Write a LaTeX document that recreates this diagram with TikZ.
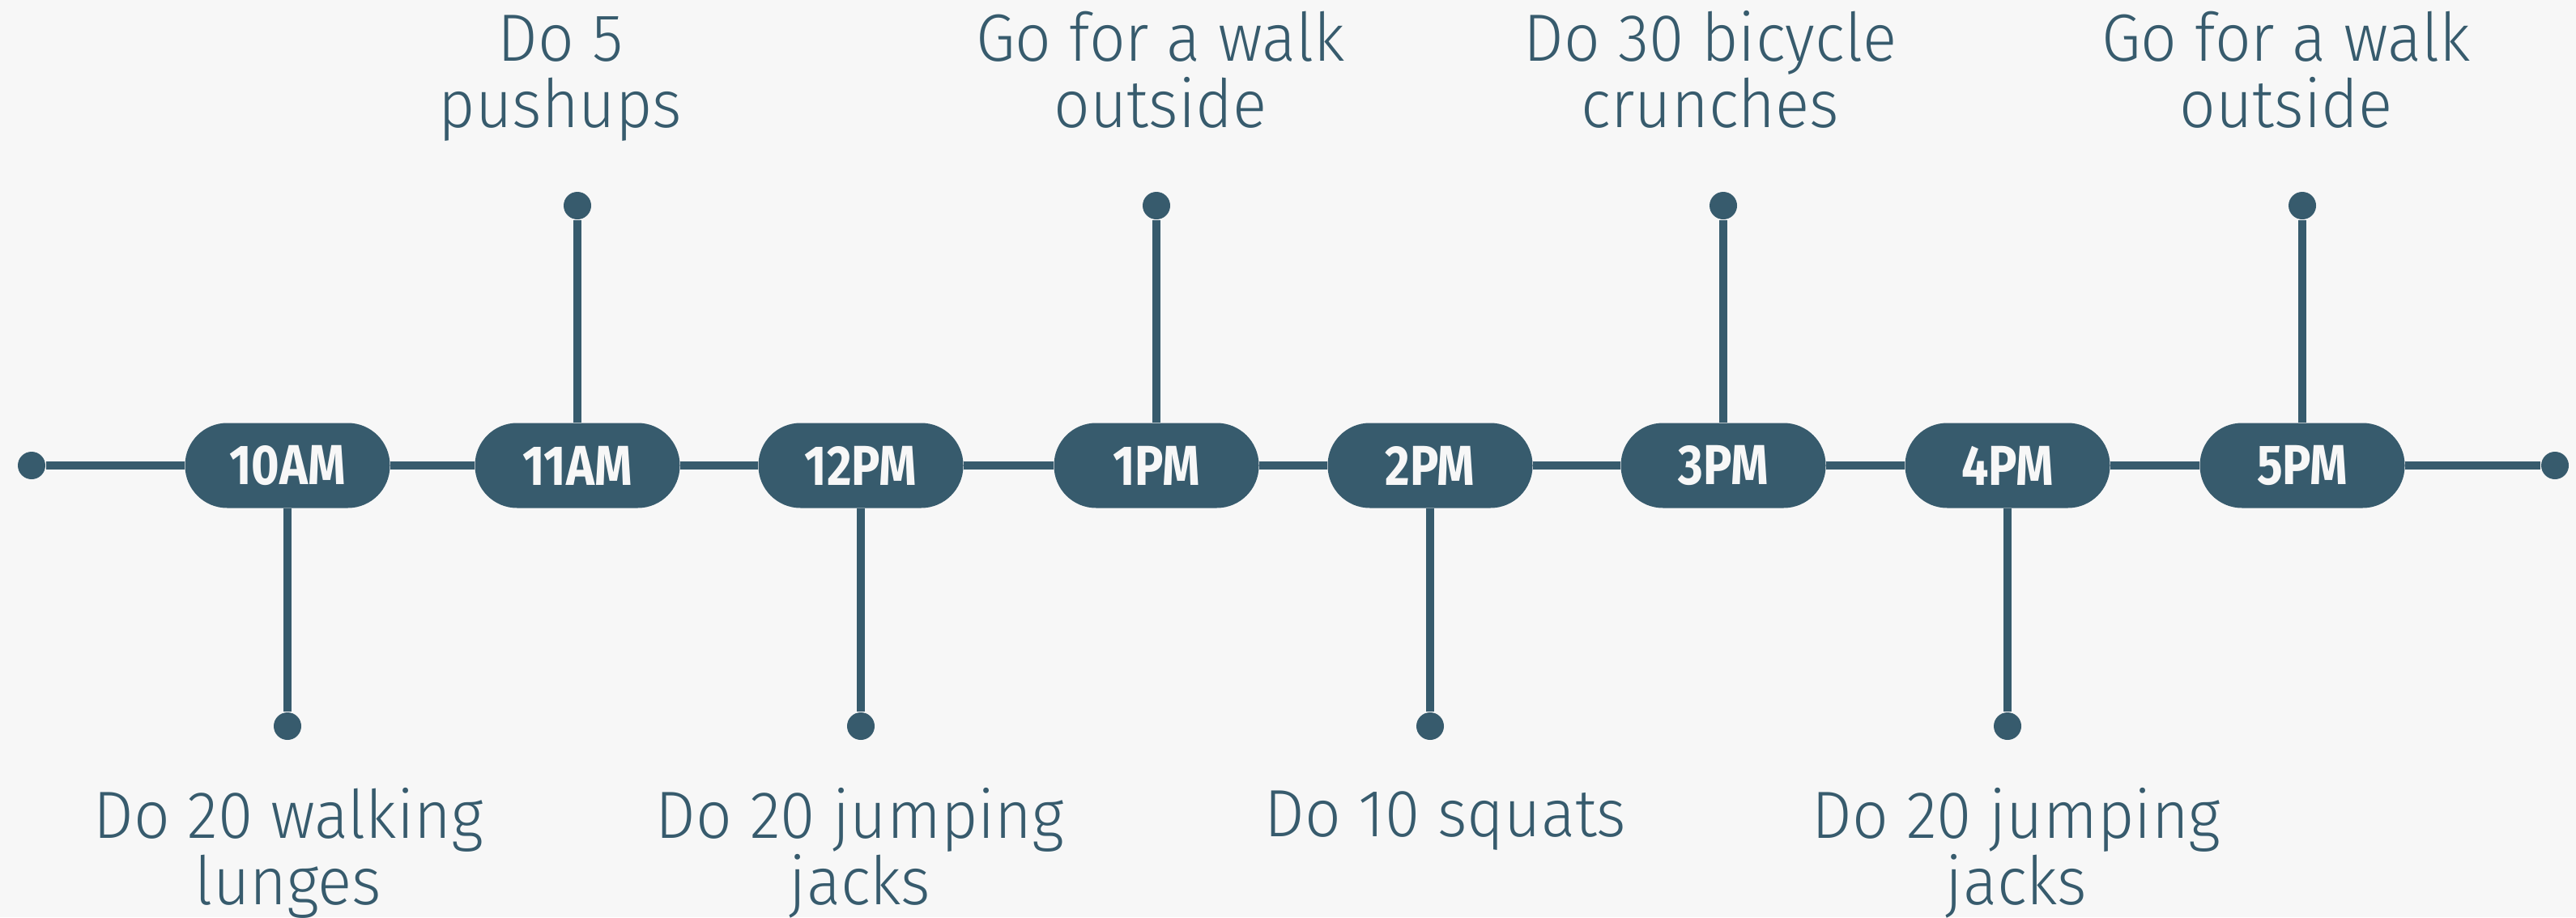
\documentclass[tikz,border=0pt]{standalone}
\usepackage{fontspec}
\setmainfont{Fira Sans Light}[FakeStretch=0.95]
\newfontfamily\pillfont{Fira Sans}[UprightFont={* Bold},FakeStretch=0.85]
\definecolor{tealdark}{HTML}{375B6D}
\definecolor{bgpaper}{HTML}{F7F7F7}

\begin{document}
\begin{tikzpicture}[
    % Styles
    tline/.style={line width=2.85pt, draw=tealdark},
    pill/.style={fill=tealdark, rounded corners=0.52cm, minimum width=2.53cm,
                 minimum height=1.05cm, inner sep=0pt, text=bgpaper,
                 font=\pillfont\fontsize{19.8pt}{20pt}\selectfont},
    dot/.style={circle, fill=tealdark, inner sep=0pt, minimum size=0.34cm},
    task/.style={anchor=base, align=center, text=tealdark, inner sep=0pt,
                 font=\fontsize{23.5pt}{23.2pt}\selectfont},
  ]

  % Background
  \fill[bgpaper] (0,0) rectangle (31.81,11.33);
  \useasboundingbox (0,0) rectangle (31.81,11.33);

  % End points
  \node[dot] (lend) at (0.39, 5.58) {};
  \node[dot] (rend) at (31.55, 5.58) {};

  % Hour pills
  \node[pill] (h10) at (3.55, 5.58) {10AM};
  \node[pill] (h11) at (7.13, 5.58) {11AM};
  \node[pill] (h12) at (10.63, 5.58) {12PM};
  \node[pill] (h1) at (14.28, 5.58) {1PM};
  \node[pill] (h2) at (17.66, 5.58) {2PM};
  \node[pill] (h3) at (21.28, 5.58) {3PM};
  \node[pill] (h4) at (24.79, 5.58) {4PM};
  \node[pill] (h5) at (28.43, 5.58) {5PM};

  % Stem ends
  \node[dot] (d10) at (3.55, 2.36) {};
  \node[dot] (d11) at (7.13, 8.79) {};
  \node[dot] (d12) at (10.63, 2.36) {};
  \node[dot] (d1) at (14.28, 8.79) {};
  \node[dot] (d2) at (17.66, 2.36) {};
  \node[dot] (d3) at (21.28, 8.79) {};
  \node[dot] (d4) at (24.79, 2.36) {};
  \node[dot] (d5) at (28.43, 8.79) {};

  % Tasks (base = last line)
  \node[task] (k10) at (3.56, 0.16) {Do 20 walking\\lunges};
  \node[task] (k11) at (6.92, 9.76) {Do 5\\pushups};
  \node[task] (k12) at (10.62, 0.16) {Do 20 jumping\\jacks};
  \node[task] (k1) at (14.33, 9.76) {Go for a walk\\outside};
  \node[task] (k2) at (17.85, 1.00) {Do 10 squats};
  \node[task] (k3) at (21.12, 9.76) {Do 30 bicycle\\crunches};
  \node[task] (k4) at (24.90, 0.16) {Do 20 jumping\\jacks};
  \node[task] (k5) at (28.23, 9.76) {Go for a walk\\outside};

  % Timeline
  \draw[tline] (lend) -- (h10) -- (h11) -- (h12) -- (h1) -- (h2) -- (h3) -- (h4) -- (h5) -- (rend);

  % Stems
  \draw[tline] (h10) -- (d10);
  \draw[tline] (h11) -- (d11);
  \draw[tline] (h12) -- (d12);
  \draw[tline] (h1) -- (d1);
  \draw[tline] (h2) -- (d2);
  \draw[tline] (h3) -- (d3);
  \draw[tline] (h4) -- (d4);
  \draw[tline] (h5) -- (d5);

\end{tikzpicture}
\end{document}
